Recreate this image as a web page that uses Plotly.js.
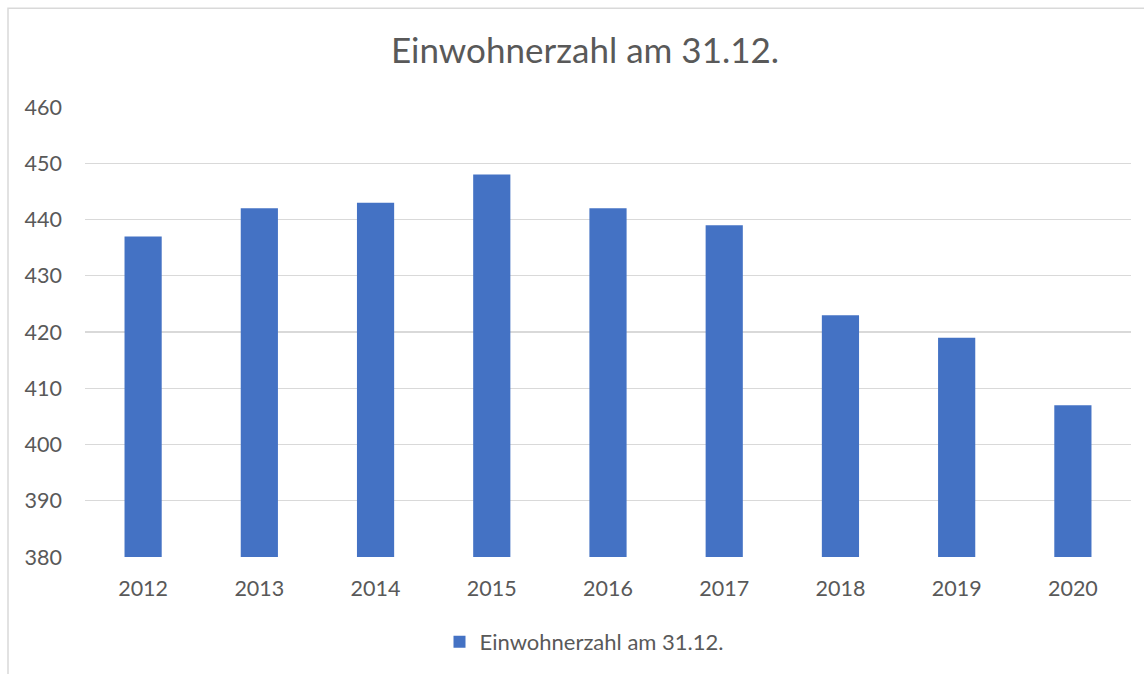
<!DOCTYPE html>
<html>
<head>
<meta charset="utf-8">
<script src="https://cdn.plot.ly/plotly-3.0.1.min.js"></script>
<style>html,body{margin:0;padding:0;background:#fff;}#chart{width:1144px;height:674px;}</style>
</head>
<body>
<div id="chart"></div>
<script>
const years = ["2012","2013","2014","2015","2016","2017","2018","2019","2020"];
const population = [437, 442, 443, 448, 442, 439, 423, 419, 407];
const seriesName = "Einwohnerzahl am 31.12.";
const chartTitle = "Einwohnerzahl am 31.12.";
const yTicks = [380, 390, 400, 410, 420, 430, 440, 450, 460];

const W = 1144, H = 674;
const L = 85, R = 13, T = 107, B = 116;
const pw = W - L - R, ph = H - T - B;
const px = x => (x - L) / pw;
const py = y => 1 - (y - T) / ph;

const font = "Lato, 'Open Sans', sans-serif";
const grey = "#595959";

Plotly.newPlot("chart", [{
  type: "bar",
  x: years,
  y: population,
  name: seriesName,
  marker: {color: "#4472c4"},
  width: 0.32,
  showlegend: true
}], {
  width: W, height: H,
  margin: {l: L, r: R, t: T, b: B},
  paper_bgcolor: "#fff",
  plot_bgcolor: "#fff",
  font: {family: font, color: grey, size: 21},
  title: {text: chartTitle, font: {size: 35, color: grey, family: font},
          x: px(585), xref: "paper", xanchor: "center", y: 1 - 51 / H, yanchor: "middle"},
  xaxis: {type: "category", showgrid: false, zeroline: false, showline: false,
          tickfont: {size: 21.5, color: grey}, ticks: "", ticklabelstandoff: 16},
  yaxis: {range: [380, 460], tickvals: yTicks, showgrid: true, gridcolor: "#d9d9d9", gridwidth: 1.3,
          zeroline: false, showline: false, tickfont: {size: 21.5, color: grey}, ticks: "",
          ticklabelstandoff: 22},
  legend: {orientation: "h", x: px(584), xanchor: "center", y: py(642), yanchor: "middle",
           itemwidth: 30, font: {size: 22, color: grey}},
  shapes: [{type: "rect", xref: "paper", yref: "paper",
            x0: px(8), x1: px(1150), y0: py(700), y1: py(8),
            line: {color: "#d9d9d9", width: 1.5}, fillcolor: "rgba(0,0,0,0)", layer: "below"}],
  showlegend: true
}, {displayModeBar: false, staticPlot: true});
</script>
</body>
</html>
